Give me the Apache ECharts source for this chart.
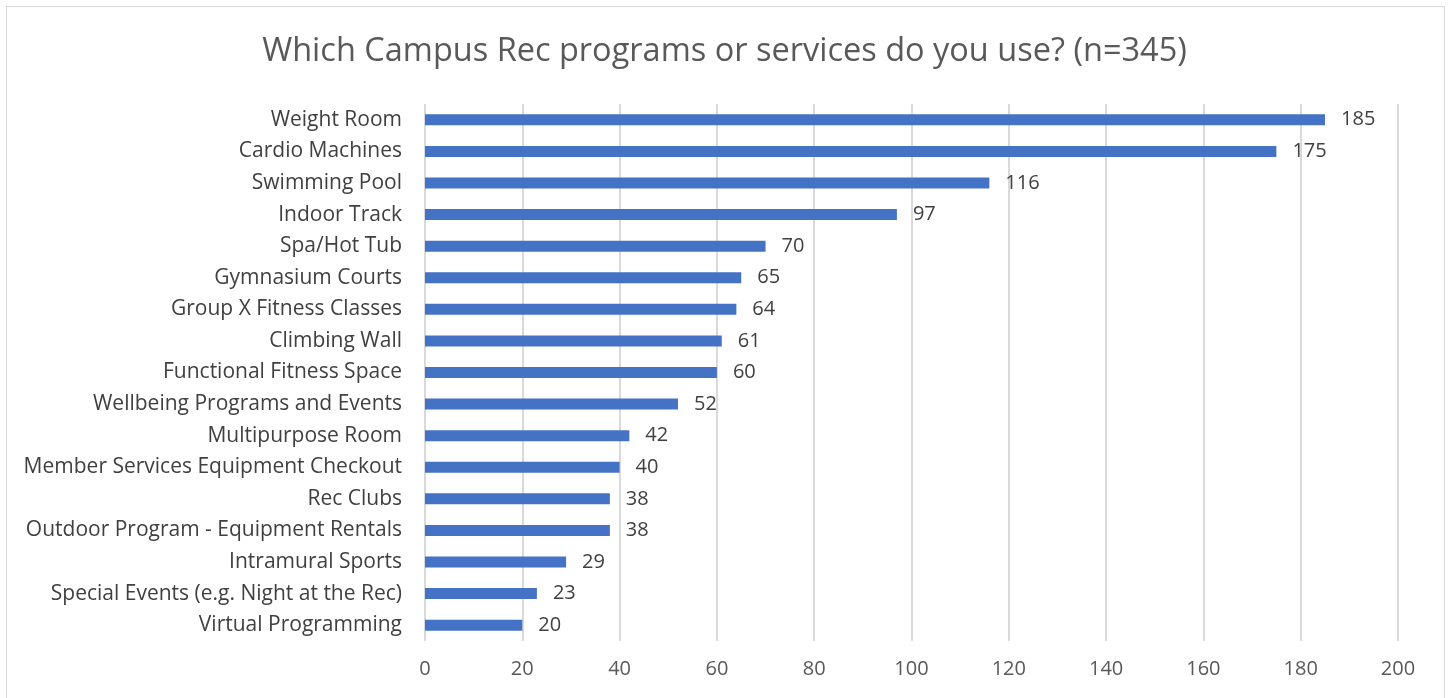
<!DOCTYPE html>
<html><head><meta charset="utf-8">
<script src="https://cdn.jsdelivr.net/npm/echarts@6/dist/echarts.min.js"></script>
<style>html,body{margin:0;padding:0;background:#fff}#c{width:1449px;height:698px}
#frame{position:absolute;left:6px;top:6px;width:1439px;height:700px;border:1px solid #d9d9d9;box-sizing:border-box;pointer-events:none}</style>
</head><body><div id="c"></div><div id="frame"></div>
<script>
const titleText = 'Which Campus Rec programs or services do you use? (n=345)';
const categories = ['Weight Room','Cardio Machines','Swimming Pool','Indoor Track','Spa/Hot Tub','Gymnasium Courts','Group X Fitness Classes','Climbing Wall','Functional Fitness Space','Wellbeing Programs and Events','Multipurpose Room','Member Services Equipment Checkout','Rec Clubs','Outdoor Program - Equipment Rentals','Intramural Sports','Special Events (e.g. Night at the Rec)','Virtual Programming'];
const values = [185,175,116,97,70,65,64,61,60,52,42,40,38,38,29,23,20];
const FONT = '"Open Sans", Lato, sans-serif';
const chart = echarts.init(document.getElementById('c'), null, {renderer:'canvas'});
chart.setOption({
  animation:false,
  title:{text:titleText,left:'center',top:30,textStyle:{fontFamily:FONT,fontSize:32.5,fontWeight:'normal',color:'#595959'}},
  grid:{left:425,right:51,top:104,bottom:57,containLabel:false},
  xAxis:{type:'value',min:0,max:200,interval:20,
    axisLine:{show:false},axisTick:{show:false},
    axisLabel:{fontFamily:FONT,fontSize:20,color:'#595959',margin:18},
    splitLine:{lineStyle:{color:'#d9d9d9',width:2}}},
  yAxis:{type:'category',data:categories,inverse:true,
    axisLine:{show:false},axisTick:{show:false},
    axisLabel:{fontFamily:FONT,fontSize:21,color:'#404040',margin:23,padding:[3,0,0,0]}},
  series:[{type:'bar',data:values,barWidth:11,itemStyle:{color:'#4472C4'},
    label:{show:true,position:'right',distance:16,fontFamily:FONT,fontSize:20,color:'#404040',padding:[3,0,0,0]}}]
});
</script></body></html>
